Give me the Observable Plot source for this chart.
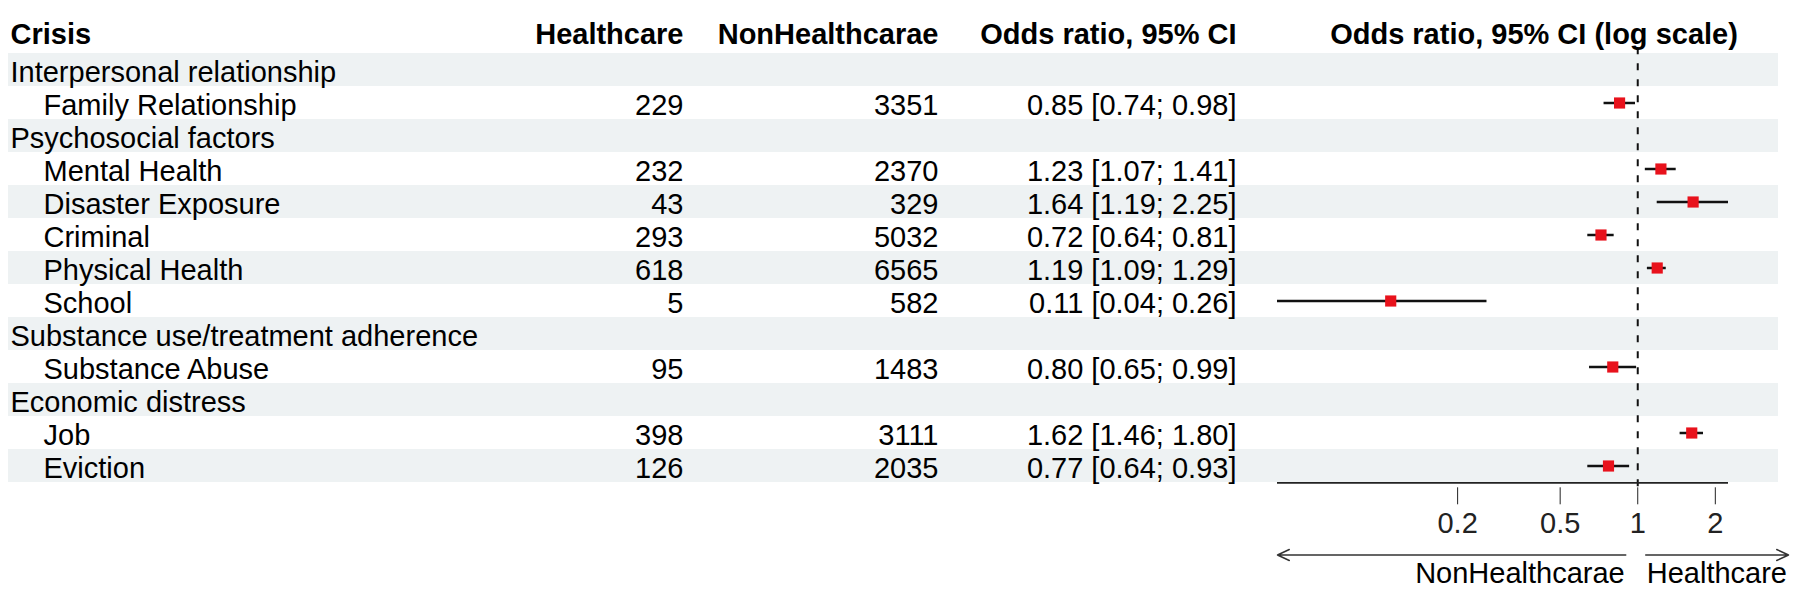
<!DOCTYPE html>
<html>
<head>
<meta charset="utf-8">
<script src="https://cdn.jsdelivr.net/npm/d3@7"></script>
<script src="https://cdn.jsdelivr.net/npm/@observablehq/plot@0.6"></script>
<style>
  html, body { margin: 0; padding: 0; background: #fff; }
  #chart { position: relative; width: 1800px; height: 606px; overflow: hidden; }
  #chart svg { position: absolute; left: 0; top: 0; }
</style>
</head>
<body>
<div id="chart"></div>
<script>
// ---- data ----
const rowLabels = [
  "Interpersonal relationship", "Family Relationship",
  "Psychosocial factors", "Mental Health", "Disaster Exposure", "Criminal", "Physical Health", "School",
  "Substance use/treatment adherence", "Substance Abuse",
  "Economic distress", "Job", "Eviction"
];
const isGroup       = [true, false, true, false, false, false, false, false, true, false, true, false, false];
const healthcare    = [null, 229,  null, 232,  43,   293,  618,  5,    null, 95,   null, 398,  126];
const nonHealthcare = [null, 3351, null, 2370, 329,  5032, 6565, 582,  null, 1483, null, 3111, 2035];
const oddsRatio     = [null, 0.85, null, 1.23, 1.64, 0.72, 1.19, 0.11, null, 0.80, null, 1.62, 0.77];
const ciLower       = [null, 0.74, null, 1.07, 1.19, 0.64, 1.09, 0.04, null, 0.65, null, 1.46, 0.64];
const ciUpper       = [null, 0.98, null, 1.41, 2.25, 0.81, 1.29, 0.26, null, 0.99, null, 1.80, 0.93];
const columnHeaders = ["Crisis", "Healthcare", "NonHealthcarae", "Odds ratio, 95% CI"];
const forestHeader  = "Odds ratio, 95% CI (log scale)";
const xTicks        = [0.2, 0.5, 1, 2];
const directionLabels = ["NonHealthcarae", "Healthcare"];

// ---- table built from the arrays ----
const rows = rowLabels.map((label, i) => ({
  i, label, group: isGroup[i], hc: healthcare[i], nhc: nonHealthcare[i],
  or: oddsRatio[i], lo: ciLower[i], hi: ciUpper[i]
}));
const studies = rows.filter(d => d.or != null);
const fmt = v => v.toFixed(2);

// ---- layout ----
const W = 1800, H = 606;
const FONT = '"Liberation Sans", Arial, Helvetica, sans-serif';
const bandTop = 47.3, bandBottom = 487.3;
const bw = (bandBottom - bandTop) / rows.length;
const rowDy = 3;
const yScale = {type: "band", domain: rows.map(d => d.i), range: [bandTop, bandBottom], padding: 0, axis: null};
const baseStyle = {fontFamily: FONT, fontSize: "29px", background: "transparent", color: "#000", overflow: "visible"};

// Plot A: the table (column positions through a piecewise linear scale)
const table = Plot.plot({
  width: W, height: H, margin: 0,
  style: baseStyle,
  x: {type: "linear", domain: [0, 1, 2, 3], range: [10, 683, 938, 1236], axis: null},
  y: yScale,
  marks: [
    Plot.cell(rows.filter(d => d.i % 2 === 0), {y: "i", fill: "#eef2f3", insetLeft: 8, insetRight: 22}),
    Plot.text([columnHeaders[0]], {x: d => columnHeaders.indexOf(d), text: d => d, frameAnchor: "top", dy: 22.5, textAnchor: "start", fontWeight: "bold", fontSize: 29, fill: "#000"}),
    Plot.text(columnHeaders.slice(1), {x: d => columnHeaders.indexOf(d), text: d => d, frameAnchor: "top", dy: 22.5, textAnchor: "end", fontWeight: "bold", fontSize: 29, fill: "#000"}),
    Plot.text(rows.filter(d => d.group), {x: () => 0, y: "i", text: "label", textAnchor: "start", dy: rowDy, fontSize: 29, fill: "#000"}),
    Plot.text(rows.filter(d => !d.group), {x: () => 0, y: "i", text: "label", textAnchor: "start", dx: 33, dy: rowDy, fontSize: 29, fill: "#000"}),
    Plot.text(studies, {x: () => 1, y: "i", text: d => String(d.hc), textAnchor: "end", dy: rowDy, fontSize: 29, fill: "#000"}),
    Plot.text(studies, {x: () => 2, y: "i", text: d => String(d.nhc), textAnchor: "end", dy: rowDy, fontSize: 29, fill: "#000"}),
    Plot.text(studies, {x: () => 3, y: "i", text: d => `${fmt(d.or)} [${fmt(d.lo)}; ${fmt(d.hi)}]`, textAnchor: "end", dy: rowDy, fontSize: 29, fill: "#000"})
  ]
});

// Plot B: the forest plot on a log scale
const xDomain = [d3.min(studies, d => d.lo), d3.max(studies, d => d.hi)];
const lastKey = rows[rows.length - 1].i;
const forest = Plot.plot({
  width: W, height: H,
  marginLeft: 1277, marginRight: 72, marginTop: bandTop, marginBottom: H - bandBottom,
  style: {...baseStyle, color: "#222"},
  x: {type: "log", domain: xDomain, ticks: xTicks, tickFormat: d => String(d), tickSize: 17, tickPadding: 8, label: null},
  y: yScale,
  marks: [
    Plot.ruleX([1], {stroke: "#111", strokeWidth: 2, strokeDasharray: "7,9"}),
    Plot.ruleY(studies, {y: "i", x1: "lo", x2: "hi", stroke: "#111", strokeWidth: 2.5}),
    Plot.dot(studies, {y: "i", x: "or", symbol: "square", r: 6.3, fill: "#e8121c", stroke: null}),
    Plot.ruleY([lastKey], {y: d => d, x1: () => xDomain[0], x2: () => xDomain[1], dy: bw / 2, stroke: "#222", strokeWidth: 1.6}),
    Plot.arrow([lastKey], {x1: () => 1, x2: () => xDomain[0], y1: d => d, y2: d => d, dy: 89, insetStart: 12, headLength: 13, headAngle: 50, stroke: "#333", strokeWidth: 1.5}),
    Plot.arrow([lastKey], {x1: () => 1, x2: () => xDomain[1], y1: d => d, y2: d => d, dy: 89, insetStart: 8, insetEnd: -60, headLength: 13, headAngle: 50, stroke: "#333", strokeWidth: 1.5}),
    Plot.text([directionLabels[0]], {x: () => 1, text: d => d, frameAnchor: "bottom", dy: 95, dx: -13, textAnchor: "end", fontSize: 29, fill: "#000"}),
    Plot.text([directionLabels[1]], {x: () => 1, text: d => d, frameAnchor: "bottom", dy: 95, dx: 9, textAnchor: "start", fontSize: 29, fill: "#000"}),
    Plot.text([forestHeader], {text: d => d, frameAnchor: "top", dy: 22.5 - bandTop, dx: 31, fontWeight: "bold", fontSize: 29, fill: "#000"})
  ]
});

const chart = document.getElementById("chart");
chart.appendChild(table);
chart.appendChild(forest);
</script>
</body>
</html>
